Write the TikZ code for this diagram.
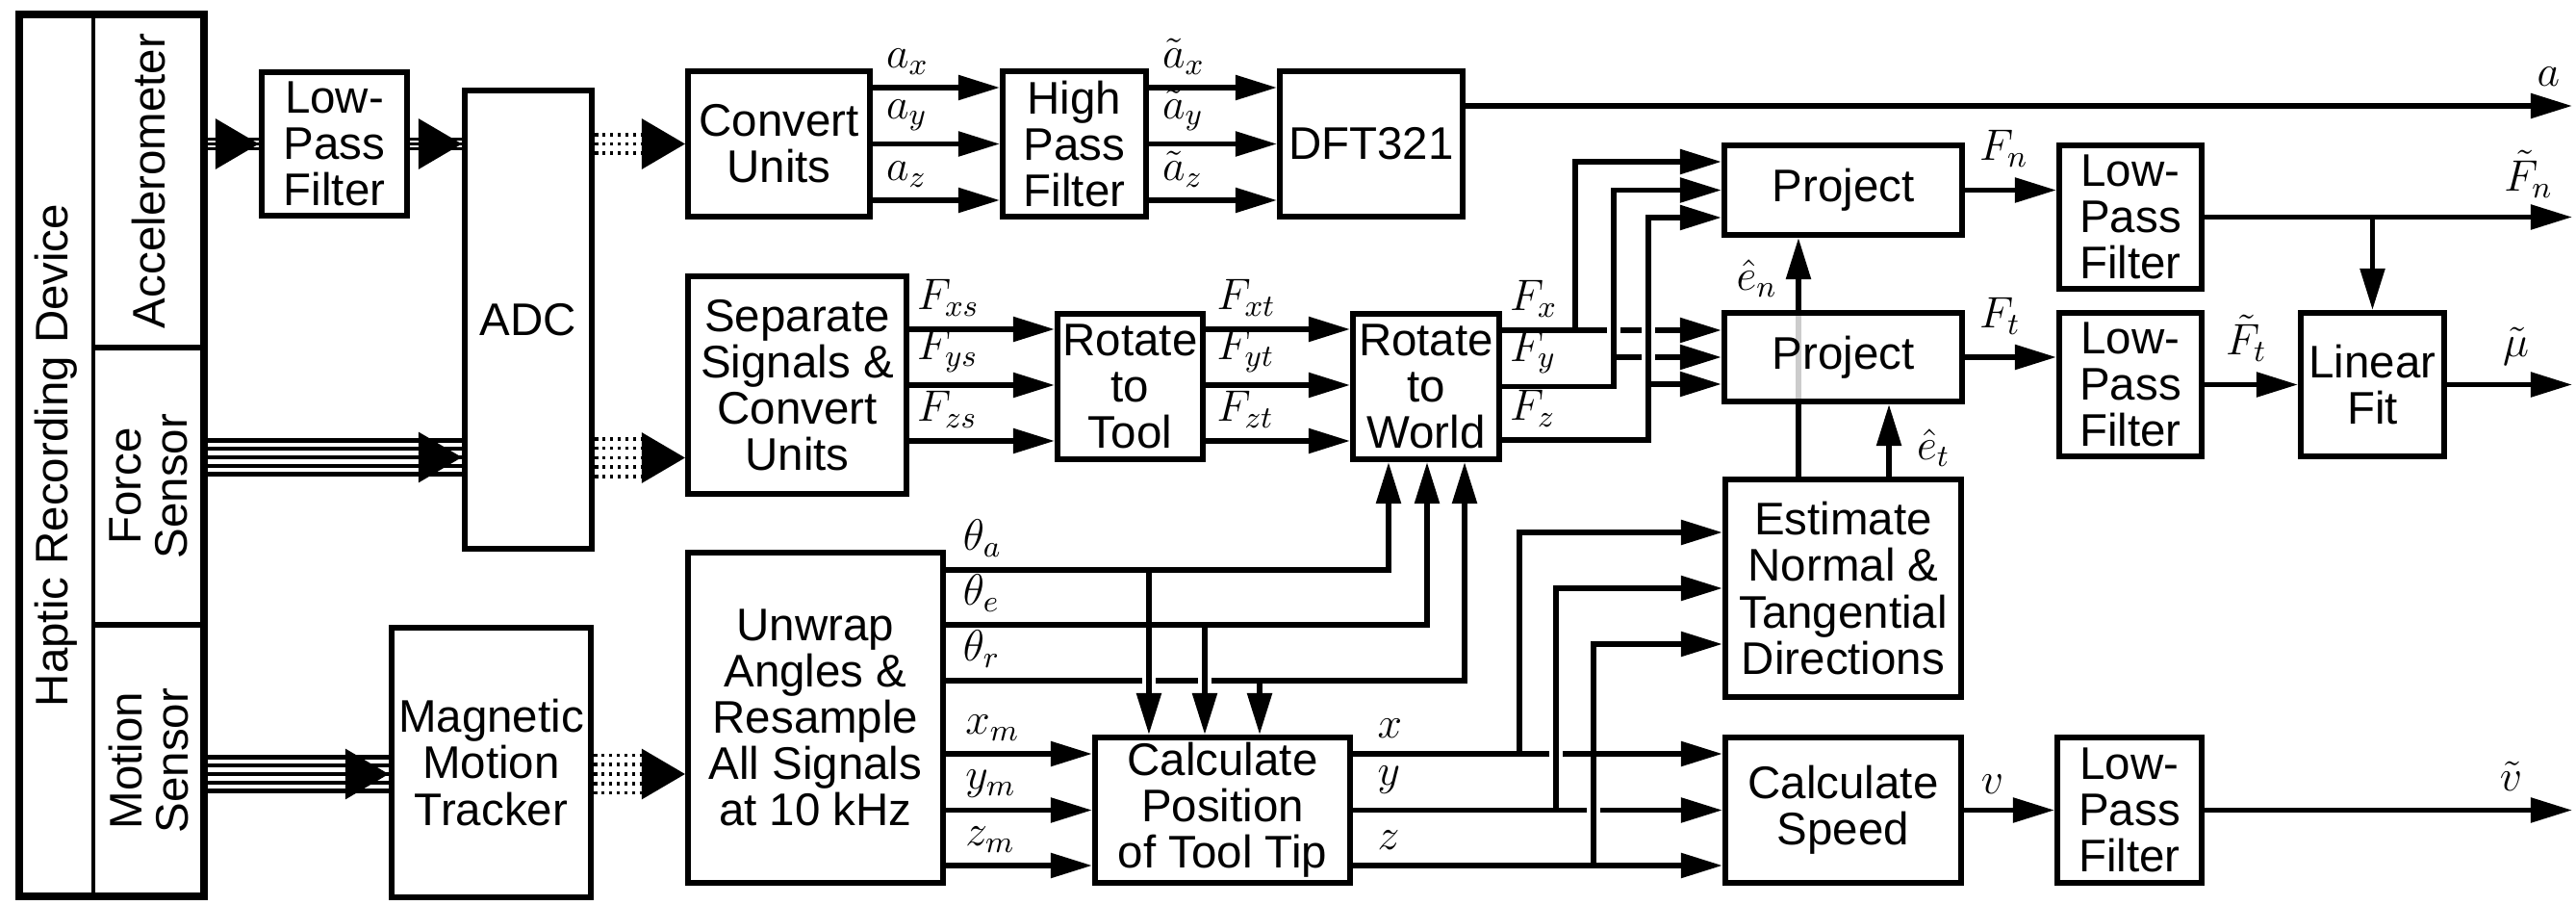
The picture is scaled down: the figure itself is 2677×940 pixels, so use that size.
\documentclass[tikz,border=0pt]{standalone}
\usepackage{fix-cm}
\usepackage[no-math]{fontspec}
\setmainfont{Liberation Sans}
\usetikzlibrary{arrows.meta,backgrounds}

\newcommand{\boxfont}{\fontsize{13.5}{13.7}\selectfont}
\newcommand{\sigfont}{\fontsize{13}{15}\selectfont}

\begin{document}
\begin{tikzpicture}[x=0.01cm,y=-0.01cm,
  block/.style={draw,line width=1.7pt,fill=white,align=center,inner sep=0pt,font=\boxfont},
  cell/.style={draw,line width=1.4pt,rotate=90,align=center,inner sep=0pt,
    minimum height=1.15cm,font=\boxfont},
  sig/.style={-{Triangle[length=0.43cm,width=0.25cm]},line width=1.55pt},
  cross/.style={preaction={draw=white,-,line width=4pt,shorten <=8pt,shorten >=8pt}},
  wire3/.style={line width=0.85pt},
  wire5/.style={line width=1.15pt},
  dots/.style={line width=1pt,dash pattern=on 1pt off 1.25pt,shorten >=0.45cm},
  bighead/.style={-{Triangle[length=0.45cm,width=0.52cm]},line width=0.85pt},
  lab/.style={font=\sigfont,inner sep=1.5pt},
  inlab/.style={lab,pos=0,anchor=south west,xshift=#1,yshift=1.5pt},
  inlab/.default=1pt,
  outlab/.style={lab,anchor=south east,xshift=#1,yshift=3.5pt}]
\useasboundingbox (0,0) rectangle (2677,940);

% recording device
\node[cell,minimum width=3.46cm] (acc) at (154.5,188) {Accelerometer};
\node[cell,minimum width=2.88cm] (frc) at (154.5,505) {Force\\Sensor};
\node[cell,minimum width=2.82cm] (mot) at (154.5,790) {Motion\\Sensor};
\node[rotate=90,font=\boxfont] (dev) at (58,473) {Haptic Recording Device};
\node[draw,line width=2.3pt,inner sep=0pt,minimum width=1.915cm,minimum height=9.16cm] (rig) at (116.25,473) {};

% blocks
\node[block,minimum width=1.51cm,minimum height=1.49cm] (lpf1) at (347.5,149.5) {Low-\\Pass\\Filter};
\node[block,minimum width=1.32cm,minimum height=4.76cm] (adc) at (549,332) {ADC};
\node[block,minimum width=2.07cm,minimum height=2.80cm] (mmt) at (510.5,792) {Magnetic\\Motion\\Tracker};
\node[block,minimum width=1.89cm,minimum height=1.51cm] (cu) at (809.5,149.5) {Convert\\Units};
\node[block,minimum width=1.49cm,minimum height=1.51cm] (hpf) at (1116.5,149.5) {High\\Pass\\Filter};
\node[block,minimum width=1.90cm,minimum height=1.51cm] (dft) at (1425,149.5) {DFT321};
\node[block,minimum width=2.27cm,minimum height=2.26cm] (sep) at (828.5,400) {Separate\\Signals \&\\Convert\\Units};
\node[block,minimum width=1.51cm,minimum height=1.51cm] (rtt) at (1174.5,401.5) {Rotate\\to\\Tool};
\node[block,minimum width=1.52cm,minimum height=1.51cm] (rtw) at (1482,401.5) {Rotate\\to\\World};
\node[block,minimum width=2.65cm,minimum height=3.43cm] (unw) at (847.5,745.5) {Unwrap\\Angles \&\\Resample\\All Signals\\at 10 kHz};
\node[block,minimum width=2.65cm,minimum height=1.51cm] (cpos) at (1270.5,841.5) {Calculate\\Position\\of Tool Tip};
\node[block,minimum width=2.47cm,minimum height=0.93cm] (prjn) at (1915.5,197.5) {Project};
\node[block,minimum width=2.47cm,minimum height=0.92cm,fill opacity=0.8,text opacity=1] (prjt) at (1915.5,371) {Project};
\node[block,minimum width=2.45cm,minimum height=2.26cm] (est) at (1915.5,611) {Estimate\\Normal \&\\Tangential\\Directions};
\node[block,minimum width=2.45cm,minimum height=1.51cm] (spd) at (1915.5,841.5) {Calculate\\Speed};
\node[block,minimum width=1.48cm,minimum height=1.49cm] (lpfn) at (2214,225.5) {Low-\\Pass\\Filter};
\node[block,minimum width=1.48cm,minimum height=1.49cm] (lpft) at (2214,399.5) {Low-\\Pass\\Filter};
\node[block,minimum width=1.50cm,minimum height=1.51cm] (lpfv) at (2213,841.5) {Low-\\Pass\\Filter};
\node[block,minimum width=1.49cm,minimum height=1.49cm] (fit) at (2465.5,399.5) {Linear\\Fit};

\coordinate (aout) at (2673,110);
\coordinate (nout) at (2673,225.5);
\coordinate (mout) at (2673,399.5);
\coordinate (vout) at (2673,841.5);
\coordinate (jfx) at (1637,343);
\coordinate (jfy) at (1677,371);
\coordinate (jfz) at (1713,399);
\coordinate (jx) at (1579,783);
\coordinate (jy) at (1617,841.5);
\coordinate (jz) at (1656,899);

% sensor bundles
\foreach \d in {-0.05cm,0cm,0.05cm} {
  \draw[wire3] ([yshift=\d]acc.south |- lpf1.west) -- ([yshift=\d]lpf1.west);
  \draw[wire3] ([yshift=\d]lpf1.east) -- ([yshift=\d]adc.west |- lpf1.east);
}
\foreach \d in {-0.175cm,-0.0875cm,0cm,0.0875cm,0.175cm} {
  \draw[wire5] ([yshift=\d]frc.south |- 0,475) -- ([yshift=\d]adc.west |- 0,475);
  \draw[wire5] ([yshift=\d]mot.south |- 0,804) -- ([yshift=\d]mmt.west |- 0,804);
}
\draw[bighead] ([xshift=-0.5cm]lpf1.west) -- (lpf1.west);
\draw[bighead] ([xshift=-0.5cm]adc.west |- lpf1.east) -- (adc.west |- lpf1.east);
\draw[bighead] ([xshift=-0.5cm]adc.west |- 0,475) -- (adc.west |- 0,475);
\draw[bighead] ([xshift=-0.5cm]mmt.west |- 0,804) -- (mmt.west |- 0,804);

% sampled bundles
\foreach \d in {-0.095cm,0cm,0.095cm}
  \draw[dots] ([yshift=\d]adc.east |- cu.west) -- ([yshift=\d]cu.west);
\foreach \d in {-0.195cm,-0.0975cm,0cm,0.0975cm,0.195cm} {
  \draw[dots] ([yshift=\d]adc.east |- 0,475.5) -- ([yshift=\d]sep.west |- 0,475.5);
  \draw[dots] ([yshift=\d]mmt.east |- 0,804) -- ([yshift=\d]unw.west |- 0,804);
}
\draw[bighead] ([xshift=-0.46cm]cu.west) -- (cu.west);
\draw[bighead] ([xshift=-0.46cm]sep.west |- 0,475.5) -- (sep.west |- 0,475.5);
\draw[bighead] ([xshift=-0.46cm]unw.west |- 0,804) -- (unw.west |- 0,804);

% acceleration
\foreach \y/\s in {91/x,149.5/y,208/z} {
  \draw[sig] (cu.east |- 0,\y) -- node[inlab=1.7pt] {$a_\s$} (hpf.west |- 0,\y);
  \draw[sig] (hpf.east |- 0,\y) -- node[inlab=1.7pt] {$\tilde{a}_\s$} (dft.west |- 0,\y);
}
\draw[sig] (dft.east |- aout) -- (aout) node[outlab=-1.4pt] {$a$};

% forces
\foreach \y/\s in {342/x,400/y,458/z} {
  \draw[sig] (sep.east |- 0,\y) -- node[inlab=0pt] {$F_{\s s}$} (rtt.west |- 0,\y);
  \draw[sig] (rtt.east |- 0,\y) -- node[inlab] {$F_{\s t}$} (rtw.west |- 0,\y);
}
\draw[sig] (rtw.east |- jfx) -- node[inlab=0pt] {$F_x$} (prjt.west |- jfx);
\draw[sig] (jfx) |- (prjn.west |- 0,168);
\draw[sig,cross] (rtw.east) -- node[inlab=0pt] {$F_y$} (jfy |- rtw.east) |- (prjn.west);
\draw[sig] (jfy) -- (prjt.west |- jfy);
\draw[sig,cross] (rtw.east |- 0,457) -- node[inlab=0pt] {$F_z$} (jfz |- 0,457) |- (prjn.west |- 0,226);
\draw[sig] (jfz) -- (prjt.west |- jfz);

\begin{pgfonlayer}{background}
\draw[sig] ([xshift=-0.465cm]est.north) -- node[lab,pos=0.83,anchor=east,xshift=-4pt] {$\hat{e}_n$} ([xshift=-0.465cm]prjn.south);
\end{pgfonlayer}
\draw[sig] ([xshift=0.475cm]est.north) -- node[lab,pos=0.4,anchor=west,xshift=6pt] {$\hat{e}_t$} ([xshift=0.475cm]prjt.south);

\draw[sig] (prjn.east) -- node[inlab=2pt,yshift=3pt] {$F_n$} (lpfn.west |- prjn.east);
\draw[sig] (lpfn.east) -- (nout) node[outlab=-3.4pt] {$\tilde{F}_n$};
\draw[sig] (lpfn.east -| fit.north) -- (fit.north);
\draw[sig] (prjt.east) -- node[inlab=2pt,yshift=3pt] {$F_t$} (lpft.west |- prjt.east);
\draw[sig] (lpft.east) -- node[inlab=4pt,yshift=3pt] {$\tilde{F}_t$} (fit.west);
\draw[sig] (fit.east) -- (mout) node[outlab=-10.5pt] {$\tilde{\mu}$};

% motion
\draw[sig] (unw.east |- 0,707) -| node[inlab=2.8pt] {$\theta_r$} ([xshift=0.4cm]rtw.south);
\draw[sig] (unw.east |- 0,592) -| node[inlab=2.8pt] {$\theta_a$} ([xshift=-0.39cm]rtw.south);
\draw[sig,cross] ([xshift=-0.765cm]cpos.north |- 0,592) -- ([xshift=-0.765cm]cpos.north);
\draw[sig] (unw.east |- 0,649) -| node[inlab=2.8pt] {$\theta_e$} ([xshift=0.01cm]rtw.south);
\draw[sig,cross] ([xshift=-0.185cm]cpos.north |- 0,649) -- ([xshift=-0.185cm]cpos.north);
\draw[sig] ([xshift=0.385cm]cpos.north |- 0,707) -- ([xshift=0.385cm]cpos.north);

\foreach \y/\s in {783/x,841.5/y,899/z}
  \draw[sig] (unw.east |- 0,\y) -- node[inlab=3.5pt] {$\s_m$} (cpos.west |- 0,\y);

\draw[sig] (cpos.east |- jy) -- node[inlab=5pt,yshift=1pt] {$y$} (spd.west |- jy);
\draw[sig] (cpos.east |- jz) -- node[inlab=5pt,yshift=1pt] {$z$} (spd.west |- jz);
\draw[sig,cross] (jz) |- (est.west |- 0,669);
\draw[sig] (cpos.east |- jx) -- node[inlab=5pt,yshift=1pt] {$x$} (spd.west |- jx);
\draw[sig] (jx) |- (est.west |- 0,553);
\draw[sig,cross] (jy) |- (est.west);

\draw[sig] (spd.east) -- node[inlab=2.8pt,yshift=1pt] {$v$} (lpfv.west);
\draw[sig] (lpfv.east) -- (vout) node[outlab=-12.5pt] {$\tilde{v}$};
\end{tikzpicture}
\end{document}
